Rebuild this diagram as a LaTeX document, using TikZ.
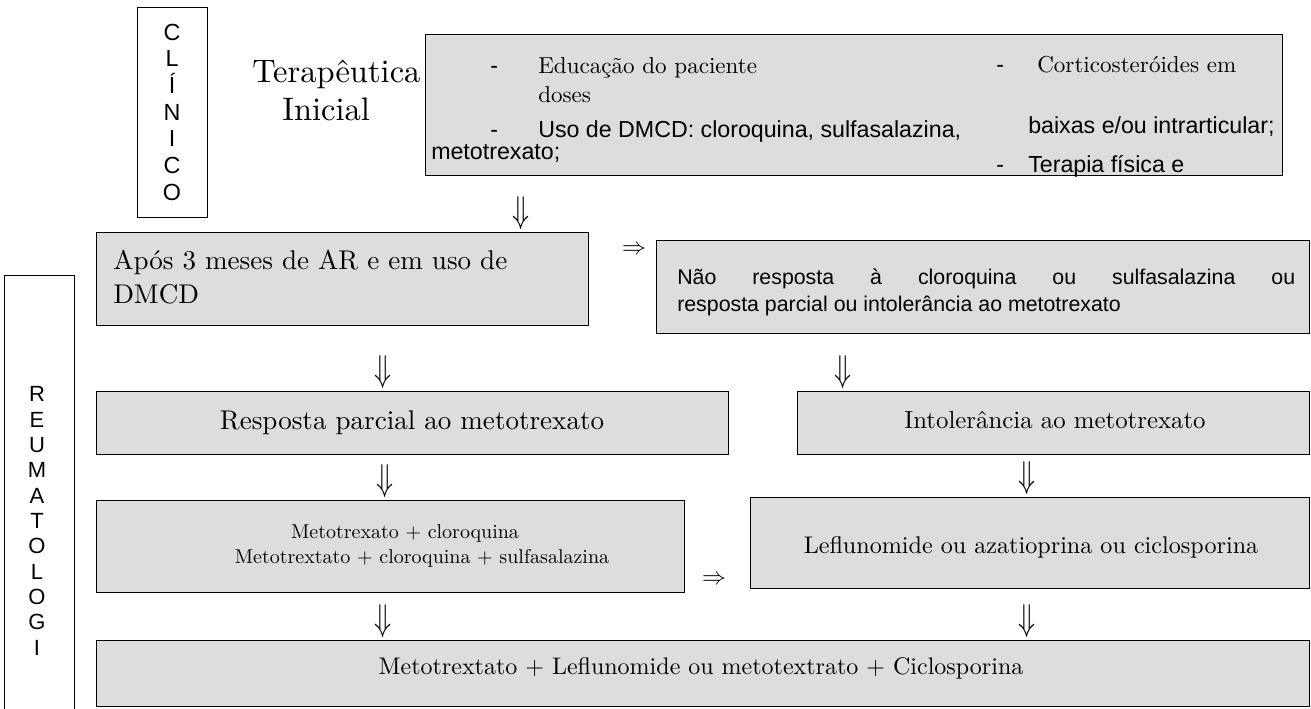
\RequirePackage{fix-cm}
\documentclass[tikz,border=0pt]{standalone}
\usepackage{graphicx}
\usepackage{fontspec}
\newfontfamily\arialfam{Liberation Sans}
\newfontfamily\cmten{lmroman10-regular.otf}
\definecolor{boxgray}{RGB}{221,221,221}
\begin{document}
\begin{tikzpicture}[x=0.75pt,y=-0.75pt,
  box/.style={draw=black, line width=1.1pt, fill=boxgray, inner sep=0pt, anchor=north west},
  frame/.style={draw=black, line width=1.1pt, fill=white, inner sep=0pt, anchor=north west},
  txt/.style={inner sep=0pt, anchor=base},
  txtl/.style={inner sep=0pt, anchor=base west},
  rmtop/.style={font=\cmten\fontsize{17.3}{21}\selectfont},
  sftop/.style={font=\arialfam\fontsize{17.4}{21}\selectfont},
  sfmid/.style={font=\arialfam\fontsize{16}{20}\selectfont},
  vletters/.style={align=center, inner sep=0pt},
  downglyph/.style={font=\fontsize{28}{28}\selectfont, inner sep=0pt, anchor=south},
  rightglyph/.style={font=\fontsize{18}{18}\selectfont, inner sep=0pt}]
\useasboundingbox (0,0) rectangle (1311,709);

% side frames
\node[frame, minimum width=70*0.75pt, minimum height=210*0.75pt] (clin) at (137,7) {};
\node[vletters, font=\arialfam\fontsize{17.5}{20}\selectfont] (clintxt) at (172,112) {C\\L\\Í\\N\\I\\C\\O};
\node[frame, minimum width=70*0.75pt, minimum height=460*0.75pt] (reuma) at (4,275) {};
\node[vletters, font=\arialfam\fontsize{16.5}{19}\selectfont] (reumatxt) at (37,521) {R\\E\\U\\M\\A\\T\\O\\L\\O\\G\\I};

% title
\node[txtl, font=\cmten\fontsize{24.4}{28}\selectfont] (ter) at (252,83) {Terapêutica};
\node[txtl, font=\cmten\fontsize{24.4}{28}\selectfont] (ini) at (282,121) {Inicial};

% top box
\node[box, minimum width=857*0.75pt, minimum height=141*0.75pt] (top) at (425,34) {};
\begin{scope}
\clip (top.south west) rectangle (top.north east);
\node[txtl, sftop] (d1) at (490,74) {-};
\node[txtl, rmtop] (edu) at (538,74) {Educação do paciente};
\node[txtl, rmtop] (doses) at (538,103) {doses};
\node[txtl, sftop] (d2) at (490,138) {-};
\node[txtl, sftop] (uso) at (538,138) {Uso de DMCD: cloroquina, sulfasalazina,};
\node[txtl, sftop] (meto) at (431,160) {metotrexato;};
\node[txtl, sftop] (d3) at (996,73) {-};
\node[txtl, rmtop] (cort) at (1037,73) {Corticosteróides em};
\node[txtl, sftop] (baixas) at (1028,134) {baixas e/ou intrarticular;};
\node[txtl, sftop] (d4) at (996,173) {-};
\node[txtl, sftop] (terap) at (1028,173) {Terapia física e};
\end{scope}

% second row
\node[box, minimum width=492*0.75pt, minimum height=93*0.75pt] (apos) at (96,232) {};
\node[txtl, font=\cmten\fontsize{20.3}{24}\selectfont] (apos1) at (113,270) {Após 3 meses de AR e em uso de};
\node[txtl, font=\cmten\fontsize{20.3}{24}\selectfont] (apos2) at (113,304) {DMCD};
\node[box, minimum width=653*0.75pt, minimum height=93*0.75pt] (nao) at (656,240) {};
\node[txtl, sfmid] (nao1) at (677,285) {\makebox[463.5pt][s]{Não resposta à cloroquina ou sulfasalazina ou}};
\node[txtl, sfmid] (nao2) at (677,312) {resposta parcial ou intolerância ao metotrexato};

% third row
\node[box, minimum width=632*0.75pt, minimum height=63*0.75pt] (resp) at (96,391) {};
\node[txt, font=\cmten\fontsize{20.3}{24}\selectfont] (resptxt) at (412,430) {Resposta parcial ao metotrexato};
\node[box, minimum width=512*0.75pt, minimum height=63*0.75pt] (intol) at (797,391) {};
\node[txt, font=\cmten\fontsize{18.6}{22}\selectfont] (intoltxt) at (1055,429) {Intolerância ao metotrexato};

% fourth row
\node[box, minimum width=588*0.75pt, minimum height=92*0.75pt] (metcl) at (96,500) {};
\node[txt, font=\cmten\fontsize{15}{18}\selectfont] (metcl1) at (405,538) {Metotrexato + cloroquina};
\node[txt, font=\cmten\fontsize{15}{18}\selectfont] (metcl2) at (422,563) {Metotrextato + cloroquina + sulfasalazina};
\node[box, minimum width=559*0.75pt, minimum height=91*0.75pt] (lefl) at (750,497) {};
\node[txt, font=\cmten\fontsize{18.1}{22}\selectfont] (lefltxt) at (1031,553) {Leflunomide ou azatioprina ou ciclosporina};

% bottom row
\node[box, minimum width=1213*0.75pt, minimum height=66*0.75pt] (bot) at (96,640) {};
\node[txt, font=\cmten\fontsize{18}{22}\selectfont] (bottxt) at (701,674) {Metotrextato + Leflunomide ou metotextrato + Ciclosporina};

% arrow glyphs
\node[downglyph] (a1) at (521,230) {\scalebox{0.75}[1]{$\Downarrow$}};
\node[rightglyph] (a2) at (634,250) {$\Rightarrow$};
\node[downglyph] (a3) at (383,389) {\scalebox{0.75}[1]{$\Downarrow$}};
\node[downglyph] (a4) at (843,389) {\scalebox{0.75}[1]{$\Downarrow$}};
\node[downglyph] (a5) at (385,498) {\scalebox{0.75}[1]{$\Downarrow$}};
\node[downglyph] (a6) at (1027,495) {\scalebox{0.75}[1]{$\Downarrow$}};
\node[rightglyph] (a7) at (714,580) {$\Rightarrow$};
\node[downglyph] (a8) at (383,638) {\scalebox{0.75}[1]{$\Downarrow$}};
\node[downglyph] (a9) at (1027,638) {\scalebox{0.75}[1]{$\Downarrow$}};
\end{tikzpicture}
\end{document}
